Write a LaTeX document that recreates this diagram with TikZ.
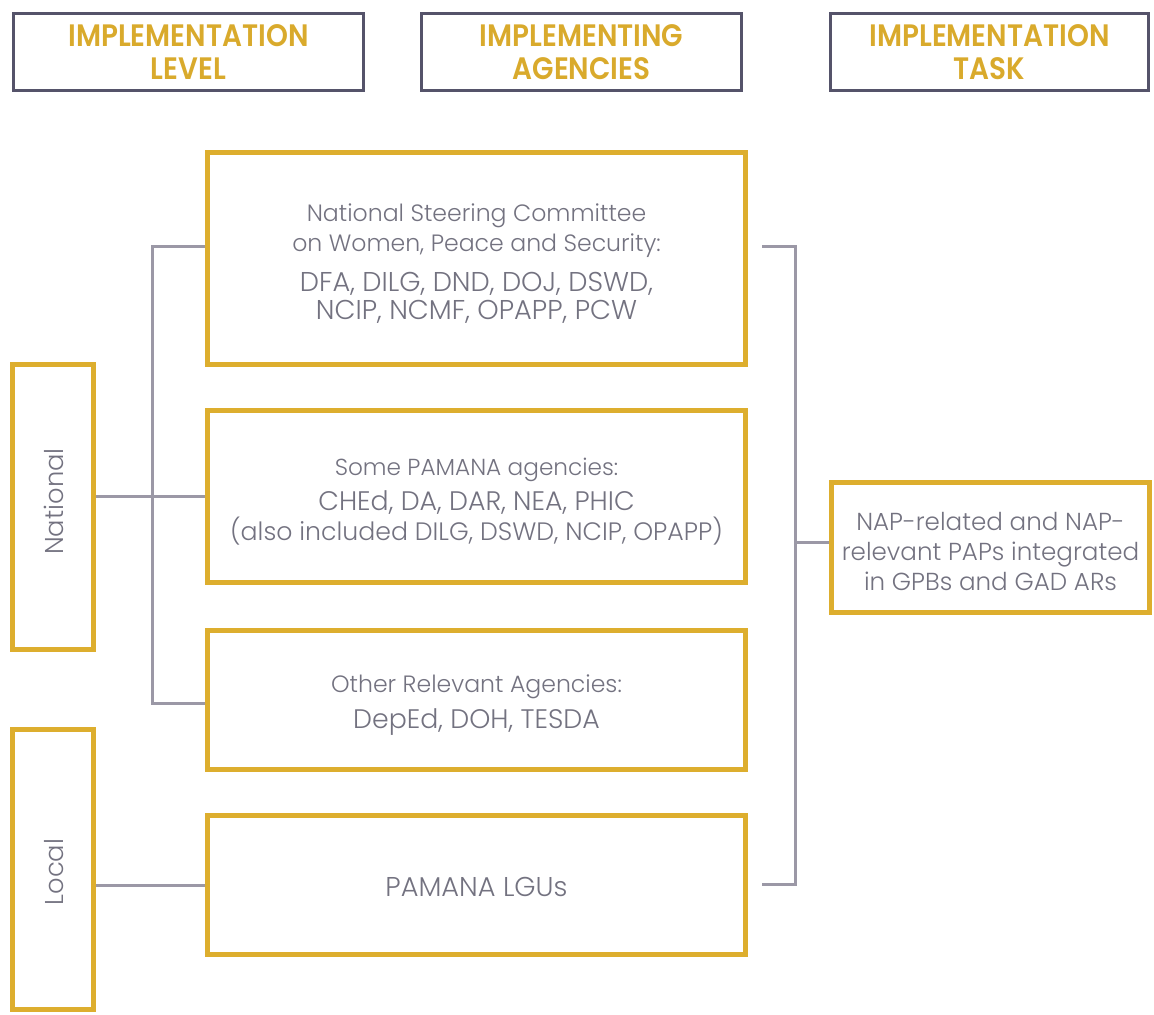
\documentclass[tikz,border=0pt]{standalone}
\usepackage{fontspec}
\setmainfont{Poppins Light}
\newfontfamily\headfont{Poppins SemiBold}[FakeStretch=0.90]
\definecolor{gold}{HTML}{DDAE2E}
\definecolor{headgold}{HTML}{D9AA2C}
\definecolor{linegray}{HTML}{9B98A6}
\definecolor{headframe}{HTML}{55536A}
\definecolor{txtgray}{HTML}{737280}
\newcommand{\fixskip}{\lineskiplimit-50pt\relax\lineskip0pt\relax}
\newcommand{\fsA}{\fontsize{11.8}{15}\selectfont}
\newcommand{\fsB}{\fontsize{13.6}{15}\selectfont}
\begin{document}
\begin{tikzpicture}[x=0.5pt,y=-0.5pt,
  headbox/.style={draw=headframe,line width=1.6pt,minimum height=38.5pt,align=center,
    font=\headfont\fontsize{15.5}{16.5}\selectfont,text=headgold,inner sep=0pt},
  agbox/.style={draw=gold,line width=2.5pt,minimum width=269pt,inner sep=0pt},
  txt/.style={align=center,inner sep=0pt,text=txtgray,
    font=\fontsize{11.8}{15}\selectfont\fixskip},
  lvlbox/.style={draw=gold,line width=2.5pt,minimum width=40.5pt,inner sep=0pt},
  conn/.style={draw=linegray,line width=1.5pt}]
\useasboundingbox (0,0) rectangle (1154,1014);
% headers
\node[headbox,minimum width=175pt] (h1) at (188.5,52) {IMPLEMENTATION\\LEVEL};
\node[headbox,minimum width=160pt] (h2) at (581.5,52) {IMPLEMENTING\\AGENCIES};
\node[headbox,minimum width=159pt] (h3) at (989.5,52) {IMPLEMENTATION\\TASK};
% agency boxes
\node[agbox,minimum height=106pt] (nsc) at (476.5,258.5) {};
\node[agbox,minimum height=86pt] (pam) at (476.5,496.5) {};
\node[agbox,minimum height=69.5pt] (oth) at (476.5,700) {};
\node[agbox,minimum height=69.5pt] (lgu) at (476.5,885) {};
\node[txt] (nsc-t) at (476.5,263.8)
  {National Steering Committee\\
   on Women, Peace and Security:\\[5pt]
   {\fsB DFA, DILG, DND, DOJ, DSWD,}\\[-1pt]
   {\fsB NCIP, NCMF, OPAPP, PCW}};
\node[txt] (pam-t) at (476.5,502)
  {{\fontsize{11.6}{15}\selectfont Some PAMANA agencies:}\\[2.5pt]
   {\fontsize{13.4}{15}\selectfont CHEd, DA, DAR, NEA, PHIC}\\
   {\fontsize{12.6}{15}\selectfont (also included DILG, DSWD, NCIP, OPAPP)}};
\node[txt] (oth-t) at (476.5,705)
  {{\fontsize{11.8}{15}\selectfont Other Relevant Agencies:}\\[3pt]
   {\fontsize{13.4}{15}\selectfont DepEd, DOH, TESDA}};
\node[txt,font=\fontsize{13.6}{15}\selectfont] (lgu-t) at (476.5,887) {PAMANA LGUs};
% level boxes
\node[lvlbox,minimum height=142.5pt] (nat) at (53,507) {};
\node[lvlbox,minimum height=140pt] (loc) at (53,869.5) {};
\node[txt,font=\fontsize{12.9}{15}\selectfont,rotate=90] (nat-t) at (54,501.5) {National};
\node[txt,font=\fontsize{12.9}{15}\selectfont,rotate=90] (loc-t) at (54,872) {Local};
% task box
\node[agbox,minimum width=159pt,minimum height=65pt] (nap) at (990.5,547.5) {};
\node[txt,font=\fontsize{12.3}{15}\selectfont\fixskip] (nap-t) at (990.5,551)
  {NAP-related and NAP-\\relevant PAPs integrated\\in GPBs and GAD ARs};
% left connectors
\coordinate (t1) at (152,246);
\coordinate (t2) at (152,703);
\draw[conn] (nsc.west |- t1) -- (t1) -- (t2) -- (oth.west |- t2);
\draw[conn] (nat.east |- pam.west) -- (pam.west);
\draw[conn] (loc.east |- lgu.west) -- (lgu.west);
% right bracket
\coordinate (b1) at (762,246);
\coordinate (b2) at (795,246);
\coordinate (b3) at (795,884);
\coordinate (b4) at (762,884);
\coordinate (bm) at (795,542);
\draw[conn] (b1) -- (b2) -- (b3) -- (b4);
\draw[conn] (bm) -- (nap.west |- bm);
\end{tikzpicture}
\end{document}
